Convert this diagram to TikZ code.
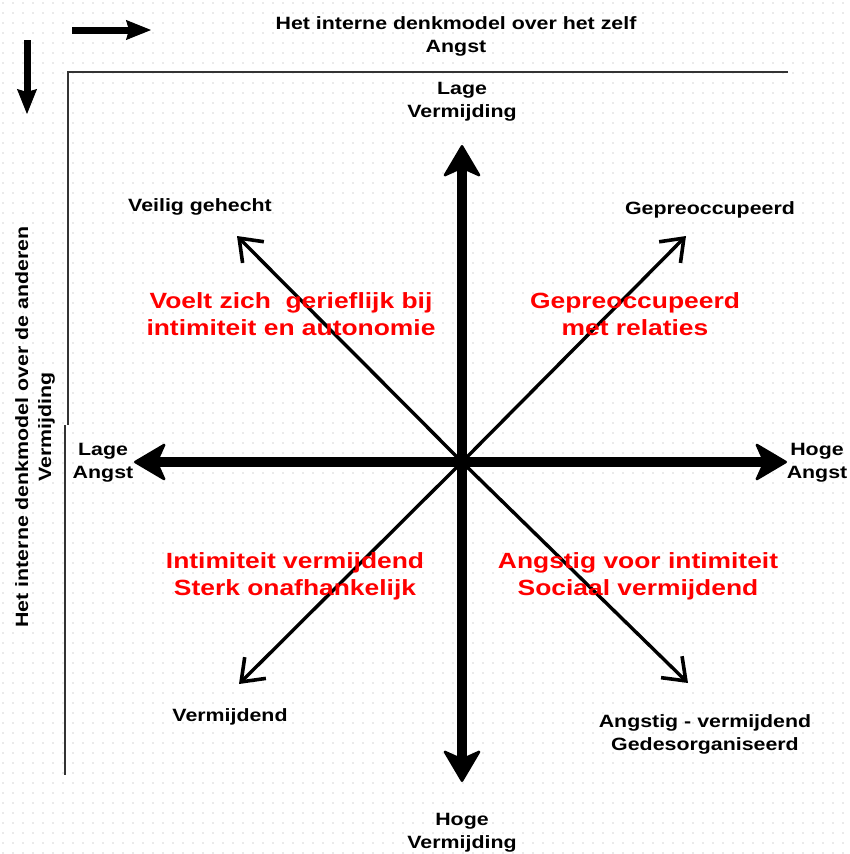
\documentclass[tikz,border=0pt]{standalone}
\usepackage{fontspec}
\setmainfont{Liberation Sans}
\newfontfamily\labfont[FakeStretch=1.2]{Liberation Sans}
\usetikzlibrary{arrows.meta}
\begin{document}
\begin{tikzpicture}[x=1pt,y=-1pt,
  lab/.style={font=\labfont\bfseries\fontsize{17.8}{23}\selectfont, align=center, inner sep=0pt},
  redlab/.style={font=\labfont\bfseries\fontsize{22}{27}\selectfont, text=red, align=center, inner sep=0pt},
  dotrow/.style={black!35, line width=1.4pt, line cap=round, dash pattern=on 0pt off 10pt},
  frameline/.style={black!80, line width=2.8pt},
  axis/.style={line width=9.5pt, {Stealth[length=34pt,width=40pt,inset=9pt,line width=2.5pt,round]}-{Stealth[length=34pt,width=40pt,inset=9pt,line width=2.5pt,round]}},
  diag/.style={line width=3.4pt, -{Straight Barb[length=20pt,width=30pt,line width=3.6pt]}},
  small/.style={line width=7pt, -{Stealth[length=25pt,width=20pt,inset=3pt,line width=1pt]}}
]
\useasboundingbox (0,0) rectangle (850,854);
\fill[white] (0,0) rectangle (850,854);
% dotted background
\foreach \y in {3,13,...,853} \draw[dotrow] (3,\y) -- (853,\y);

% frame lines
\coordinate (F1) at (788,72);
\coordinate (F2) at (68,72);
\coordinate (F3) at (68,425);
\coordinate (F4) at (65,425);
\coordinate (F5) at (65,775);
\draw[frameline] (F1) -- (F2) -- (F3);
\draw[frameline] (F4) -- (F5);

% small direction arrows
\coordinate (h1) at (72,30);
\coordinate (h2) at (151,30);
\coordinate (v1) at (27,40);
\coordinate (v2) at (27,114);
\draw[small] (h1) -- (h2);
\draw[small] (v1) -- (v2);

% axes
\coordinate (C) at (462,462);
\coordinate (T) at (462,145);
\coordinate (B) at (462,782);
\coordinate (L) at (134,462);
\coordinate (R) at (787,462);
\coordinate (TL) at (237,236);
\coordinate (TR) at (686,236);
\coordinate (BL) at (239,684);
\coordinate (BR) at (688,683);
\draw[diag] (C) -- (TL);
\draw[diag] (C) -- (TR);
\draw[diag] (C) -- (BL);
\draw[diag] (C) -- (BR);
\draw[axis] (T) -- (B);
\draw[axis] (L) -- (R);

% titles
\node[lab] (top) at (456,36) {Het interne denkmodel over het zelf\\Angst};
\node[lab, rotate=90] (left) at (35,427) {Het interne denkmodel over de anderen\\Vermijding};

% axis labels
\node[lab] (lv) at (462,102) {Lage\\Vermijding};
\node[lab] (hv) at (462,833) {Hoge\\Vermijding};
\node[lab] (la) at (103,463) {Lage\\Angst};
\node[lab] (ha) at (817,463) {Hoge\\Angst};

% corner labels
\node[lab] (vg) at (200,207) {Veilig gehecht};
\node[lab] (gp) at (710,210) {Gepreoccupeerd};
\node[lab] (vm) at (230,717) {Vermijdend};
\node[lab] (av) at (705,734) {Angstig - vermijdend\\Gedesorganiseerd};

% red quadrant texts
\node[redlab] (q1) at (291,314) {Voelt zich~ gerieflijk bij\\intimiteit en autonomie};
\node[redlab] (q2) at (635,314) {Gepreoccupeerd\\met relaties};
\node[redlab] (q3) at (295,576) {Intimiteit vermijdend\\Sterk onafhankelijk};
\node[redlab] (q4) at (638,576) {Angstig voor intimiteit\\Sociaal vermijdend};
\end{tikzpicture}
\end{document}
